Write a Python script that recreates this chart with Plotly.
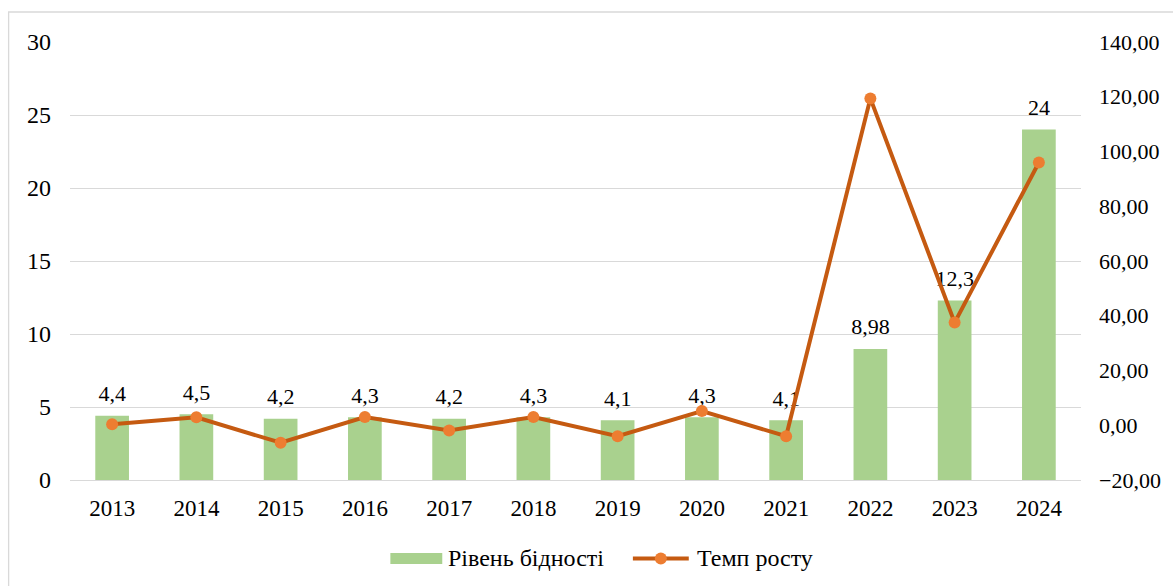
import plotly.graph_objects as go

years = ["2013", "2014", "2015", "2016", "2017", "2018", "2019", "2020", "2021", "2022", "2023", "2024"]
poverty_level = [4.4, 4.5, 4.2, 4.3, 4.2, 4.3, 4.1, 4.3, 4.1, 8.98, 12.3, 24]
growth_rate = [0.4, 2.9, -6.4, 3.0, -1.9, 3.0, -4.0, 5.2, -4.0, 119.4, 37.5, 96.0]

left_ticks = [0, 5, 10, 15, 20, 25, 30]
right_ticks = [-20, 0, 20, 40, 60, 80, 100, 120, 140]

bar_name = "Рівень бідності"
line_name = "Темп росту"

FONT = "Liberation Serif"
BAR_COLOR = "#A9D18E"
LINE_COLOR = "#C55A11"
MARKER_COLOR = "#ED7D31"
GRID = "#D9D9D9"


def comma_label(v):
    return ("%g" % v).replace(".", ",")


def px_x(px):
    # convert a horizontal pixel offset into paper coordinates of the plot area
    return (px - 70) / 1013


def px_y(py):
    return (480 - py) / 438


fig = go.Figure()

fig.add_trace(go.Bar(
    x=years, y=poverty_level, name=bar_name,
    marker=dict(color=BAR_COLOR, line=dict(width=0)),
    width=0.4,
    yaxis="y",
    hoverinfo="x+y",
))

# value labels above the bars (invisible markers set the gap to the bar top)
fig.add_trace(go.Scatter(
    x=years, y=poverty_level, mode="markers+text",
    text=[comma_label(v) for v in poverty_level],
    textposition="top center",
    textfont=dict(family=FONT, size=22, color="#000000"),
    marker=dict(size=13, opacity=0),
    cliponaxis=False, hoverinfo="skip",
    yaxis="y",
))

fig.add_trace(go.Scatter(
    x=years, y=growth_rate, name=line_name,
    mode="lines+markers",
    line=dict(color=LINE_COLOR, width=4),
    marker=dict(color=MARKER_COLOR, size=12),
    yaxis="y2",
    cliponaxis=False,
))

# legend drawn below the plot: swatch, line sample and labels
legend_shapes = [
    dict(type="rect", xref="paper", yref="paper",
         x0=px_x(391), x1=px_x(443), y0=px_y(564), y1=px_y(553),
         fillcolor=BAR_COLOR, line=dict(width=0)),
    dict(type="line", xref="paper", yref="paper",
         x0=px_x(634), x1=px_x(690), y0=px_y(558.5), y1=px_y(558.5),
         line=dict(color=LINE_COLOR, width=4)),
    dict(type="circle", xref="paper", yref="paper",
         x0=px_x(656), x1=px_x(668), y0=px_y(564.5), y1=px_y(552.5),
         fillcolor=MARKER_COLOR, line=dict(width=0)),
]
legend_labels = [
    dict(text=bar_name, xref="paper", yref="paper", x=px_x(447), y=px_y(558),
         xanchor="left", yanchor="middle", showarrow=False,
         font=dict(family=FONT, size=24, color="#000000")),
    dict(text=line_name, xref="paper", yref="paper", x=px_x(696), y=px_y(558),
         xanchor="left", yanchor="middle", showarrow=False,
         font=dict(family=FONT, size=24, color="#000000")),
]

border = dict(type="rect", xref="paper", yref="paper",
              x0=px_x(8.5), x1=1.3, y0=-0.3, y1=px_y(12),
              line=dict(color=GRID, width=1.3), layer="below")

fig.update_layout(
    width=1173, height=586,
    margin=dict(l=70, r=90, t=42, b=106),
    paper_bgcolor="white", plot_bgcolor="white",
    separators=", ",
    font=dict(family=FONT, size=22, color="#000000"),
    showlegend=False,
    xaxis=dict(range=[-0.5, 11.5], showgrid=False, showline=False, ticks="",
               tickfont=dict(family=FONT, size=23, color="#000000"),
               ticklabelstandoff=12),
    yaxis=dict(range=[0, 30], tickvals=left_ticks, showgrid=True, gridcolor=GRID,
               gridwidth=1.3, zeroline=True, zerolinecolor=GRID, zerolinewidth=1.3,
               showline=False, ticks="", ticklabelstandoff=18,
               tickfont=dict(family=FONT, size=24, color="#000000")),
    yaxis2=dict(range=[-20, 140], tickvals=right_ticks, tickformat=".2f",
                overlaying="y", side="right", showgrid=False, zeroline=False,
                showline=False, ticks="", ticklabelstandoff=17,
                tickfont=dict(family=FONT, size=22, color="#000000")),
    shapes=[border] + legend_shapes,
    annotations=legend_labels,
)

fig.write_html("out.html")
